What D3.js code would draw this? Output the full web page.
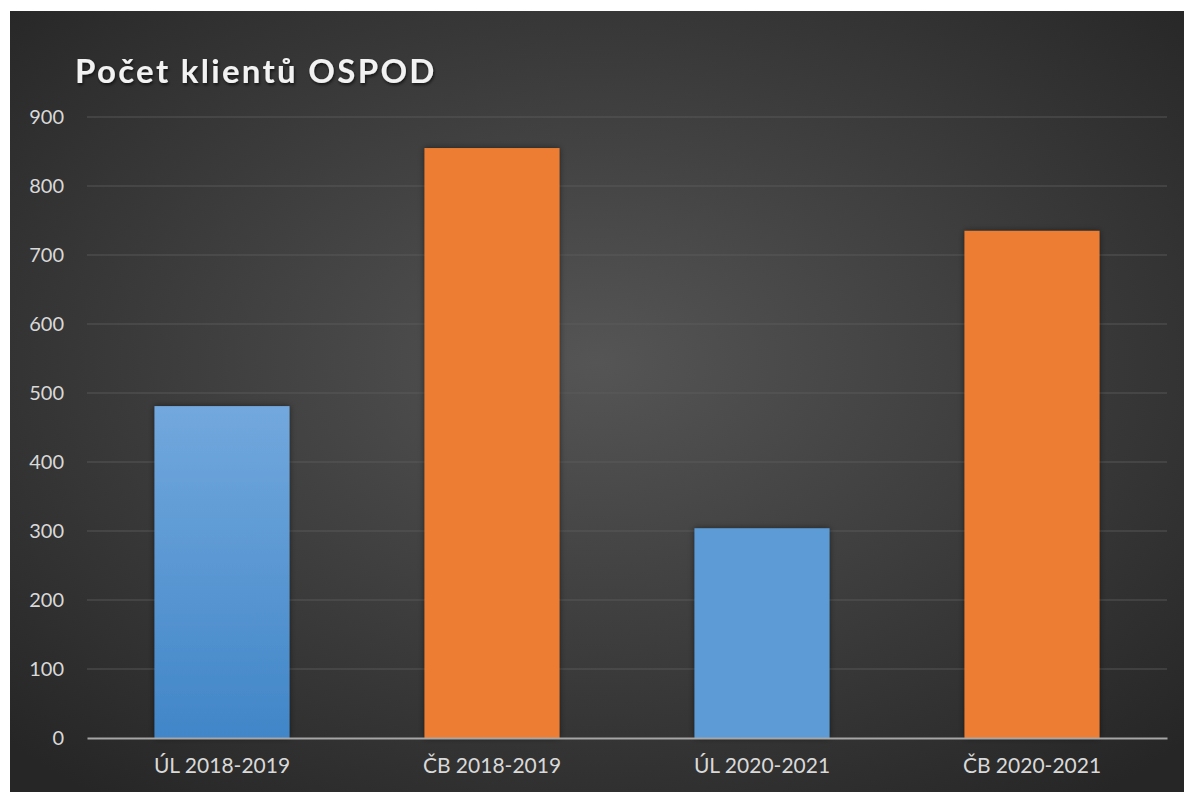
<!DOCTYPE html>
<html>
<head>
<meta charset="utf-8">
<script src="https://cdn.jsdelivr.net/npm/d3@7"></script>
<style>
  body { margin: 0; background: #fff; }
  svg { display: block; }
</style>
</head>
<body>
<svg width="1184" height="792"></svg>
<script>
var categories = ['ÚL 2018-2019', 'ČB 2018-2019', 'ÚL 2020-2021', 'ČB 2020-2021'];
var values = [481, 855, 304, 735];
var yTicks = [0, 100, 200, 300, 400, 500, 600, 700, 800, 900];
var barFills = ['url(#blueGrad)', '#ed7d31', '#5b9bd5', '#ed7d31'];
var title = 'Počet klientů OSPOD';

var svg = d3.select('svg');
var font = 'Lato, "Open Sans", sans-serif';

var defs = svg.append('defs');
var bg = defs.append('radialGradient').attr('id', 'bgGrad')
    .attr('cx', '50%').attr('cy', '45%').attr('r', '70%');
bg.append('stop').attr('offset', '0%').attr('stop-color', '#555555');
bg.append('stop').attr('offset', '100%').attr('stop-color', '#262626');

var bl = defs.append('linearGradient').attr('id', 'blueGrad')
    .attr('x1', 0).attr('y1', 0).attr('x2', 0).attr('y2', 1);
bl.append('stop').attr('offset', '0%').attr('stop-color', '#72a8dd');
bl.append('stop').attr('offset', '100%').attr('stop-color', '#4186c8');

var sh = defs.append('filter').attr('id', 'shadow')
    .attr('x', '-20%').attr('y', '-20%').attr('width', '140%').attr('height', '140%');
sh.append('feDropShadow').attr('dx', 0).attr('dy', 0).attr('stdDeviation', 3)
    .attr('flood-color', '#000').attr('flood-opacity', 0.5);

var tsh = defs.append('filter').attr('id', 'tshadow');
tsh.append('feDropShadow').attr('dx', 1).attr('dy', 2).attr('stdDeviation', 1.5)
    .attr('flood-color', '#000').attr('flood-opacity', 0.6);

// background panel
svg.append('rect')
    .attr('x', 10).attr('y', 11)
    .attr('width', 1174).attr('height', 781)
    .attr('fill', 'url(#bgGrad)');

var plot = { l: 87, r: 1167, t: 117, b: 738 };

var x = d3.scaleBand()
    .domain(categories)
    .range([plot.l, plot.r])
    .paddingInner(0.5)
    .paddingOuter(0.25);

var y = d3.scaleLinear()
    .domain([0, 900])
    .range([plot.b, plot.t]);

// gridlines
svg.append('g').selectAll('line')
    .data(yTicks.filter(function(d) { return d > 0; }))
    .enter().append('line')
    .attr('x1', plot.l).attr('x2', plot.r)
    .attr('y1', function(d) { return y(d); })
    .attr('y2', function(d) { return y(d); })
    .attr('stroke', '#5e5e5e')
    .attr('stroke-width', 1.2)
    .attr('opacity', 0.8);

// y tick labels
var yAxis = svg.append('g')
    .attr('transform', 'translate(' + (plot.l - 20) + ',0)')
    .call(d3.axisLeft(y).tickValues(yTicks).tickSize(0).tickPadding(3));
yAxis.select('.domain').remove();
yAxis.selectAll('text')
    .attr('fill', '#d9d9d9')
    .style('font-family', font)
    .style('font-size', '20px');

// bars
svg.append('g').selectAll('rect')
    .data(values)
    .enter().append('rect')
    .attr('x', function(d, i) { return x(categories[i]); })
    .attr('y', function(d) { return y(d); })
    .attr('width', x.bandwidth())
    .attr('height', function(d) { return plot.b - y(d); })
    .attr('fill', function(d, i) { return barFills[i]; })
    .attr('filter', 'url(#shadow)');

// x axis
var xAxis = svg.append('g')
    .attr('transform', 'translate(0,' + plot.b + ')')
    .call(d3.axisBottom(x).tickSize(0).tickPadding(20));
xAxis.select('.domain')
    .attr('stroke', '#a6a6a6')
    .attr('stroke-width', 2.2);
xAxis.selectAll('text')
    .attr('fill', '#d9d9d9')
    .style('font-family', font)
    .style('font-size', '21px');

// title
svg.append('text')
    .attr('x', 75).attr('y', 83)
    .attr('fill', '#f2f2f2')
    .attr('filter', 'url(#tshadow)')
    .style('font-family', font)
    .style('font-weight', 'bold')
    .style('font-size', '33px')
    .style('letter-spacing', '2.3px')
    .text(title);
</script>
</body>
</html>
